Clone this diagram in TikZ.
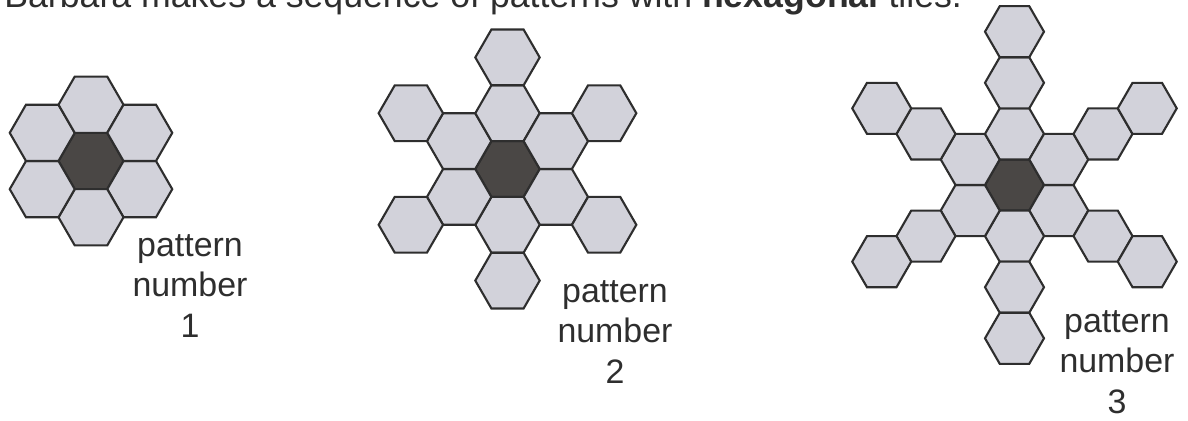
\documentclass[tikz,border=0pt]{standalone}
\usepackage{fontspec}
\setmainfont{Liberation Sans}
\usetikzlibrary{shapes.geometric,positioning}
\definecolor{tilefill}{HTML}{D2D2DA}
\definecolor{corefill}{HTML}{4A4745}
\definecolor{ink}{HTML}{2E2E2E}
\tikzset{
  every node/.style={text=ink},
  hexbase/.style={regular polygon,regular polygon sides=6,draw=ink,line width=1.2pt,inner sep=0pt,outer sep=0pt},
  hextile/.style={hexbase,fill=tilefill},
  hexcore/.style={hexbase,fill=corefill},
  caption/.style={align=center,anchor=base,inner sep=0pt,font=\fontsize{19.3}{22.8}\selectfont},
  headline/.style={anchor=base west,inner sep=0pt,font=\fontsize{20.3}{22}\selectfont},
}

\begin{document}
\begin{tikzpicture}[x=0.02cm,y=-0.02cm]
\clip (0,0) rectangle (1188,420);

\node[headline] (title) at (4,7) {Barbara makes a sequence of patterns with \textbf{hexagonal} tiles.};

\node[hexcore,minimum size=1.3cm] (p1c) at (91,161) {};
\foreach \a in {30,90,...,330}
  \node[hextile,minimum size=1.3cm] (p1-\a-1) at ([shift={(\a:56.3)}]p1c) {};
\node[caption] (p1lbl) at (190,337) {pattern\\number\\1};

\node[hexcore,minimum size=1.288cm] (p2c) at (507.5,169) {};
\foreach \a in {30,90,...,330}
  \foreach \k in {1,2}
    \node[hextile,minimum size=1.288cm] (p2-\a-\k) at ([shift={(\a:\k*55.8)}]p2c) {};
\node[caption] (p2lbl) at (615,383) {pattern\\number\\2};

\node[hexcore,minimum size=1.18cm] (p3c) at (1014.5,185) {};
\foreach \a in {30,90,...,330}
  \foreach \k in {1,2,3}
    \node[hextile,minimum size=1.18cm] (p3-\a-\k) at ([shift={(\a:\k*51.1)}]p3c) {};
\node[caption] (p3lbl) at (1117,413) {pattern\\number\\3};

\end{tikzpicture}
\end{document}
